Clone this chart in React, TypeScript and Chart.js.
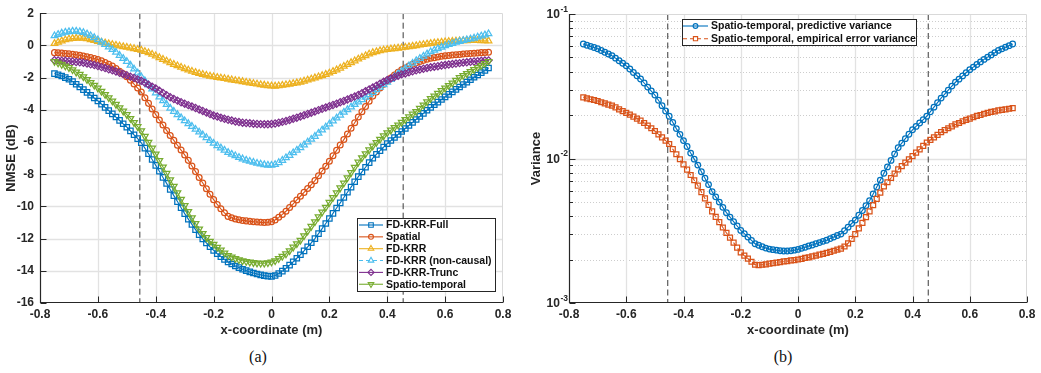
import React, { useEffect, useRef } from 'react';
import { Chart, registerables } from 'chart.js';

Chart.register(...registerables);

// Microphone positions along the evaluation line (m)
const X_POS: number[] = Array.from({ length: 121 }, (_, i) => +(-0.75 + i * 0.0125).toFixed(4));

const X_TICKS = [-0.8, -0.6, -0.4, -0.2, 0, 0.2, 0.4, 0.6, 0.8];
const NMSE_TICKS = [-16, -14, -12, -10, -8, -6, -4, -2, 0, 2];
const VAR_DECADES = [0.001, 0.01, 0.1];
const VAR_MINORS = [0.002, 0.003, 0.004, 0.005, 0.006, 0.007, 0.008, 0.009, 0.02, 0.03, 0.04, 0.05, 0.06, 0.07, 0.08, 0.09];
const REGION_EDGES = [-0.455, 0.455];

// NMSE (dB) per method
const NMSE_FULL = [
  -1.75, -1.82, -1.9, -2.0, -2.1, -2.25, -2.41, -2.58, -2.75, -2.92, -3.1, -3.27,
  -3.45, -3.65, -3.85, -4.05, -4.25, -4.45, -4.66, -4.87, -5.08, -5.31, -5.55, -5.79,
  -6.05, -6.38, -6.73, -7.09, -7.45, -7.82, -8.2, -8.57, -8.95, -9.33, -9.7, -10.08,
  -10.45, -10.79, -11.12, -11.44, -11.75, -12.02, -12.27, -12.51, -12.73, -12.93, -13.12, -13.29,
  -13.45, -13.58, -13.7, -13.8, -13.9, -13.99, -14.07, -14.14, -14.2, -14.25, -14.3, -14.33,
  -14.35, -14.29, -14.17, -14.02, -13.85, -13.65, -13.44, -13.22, -13.0, -12.76, -12.51, -12.26,
  -12.0, -11.69, -11.38, -11.06, -10.75, -10.43, -10.1, -9.78, -9.45, -9.12, -8.8, -8.47,
  -8.15, -7.86, -7.57, -7.28, -7.0, -6.77, -6.54, -6.32, -6.1, -5.91, -5.72, -5.53,
  -5.35, -5.16, -4.97, -4.78, -4.6, -4.41, -4.22, -4.03, -3.85, -3.69, -3.52, -3.36,
  -3.2, -3.04, -2.89, -2.73, -2.58, -2.43, -2.28, -2.13, -1.98, -1.84, -1.69, -1.55,
  -1.4,
];
const NMSE_SPATIAL = [
  -0.45, -0.46, -0.48, -0.5, -0.52, -0.55, -0.58, -0.62, -0.66, -0.71, -0.76, -0.82,
  -0.88, -0.96, -1.06, -1.17, -1.28, -1.43, -1.6, -1.77, -1.95, -2.17, -2.4, -2.65,
  -2.9, -3.25, -3.6, -3.95, -4.3, -4.63, -4.95, -5.28, -5.6, -5.9, -6.2, -6.5,
  -6.8, -7.14, -7.49, -7.84, -8.2, -8.55, -8.9, -9.25, -9.58, -9.88, -10.15, -10.4,
  -10.62, -10.71, -10.78, -10.83, -10.87, -10.9, -10.93, -10.95, -10.97, -10.99, -11.0, -10.98,
  -10.95, -10.84, -10.68, -10.5, -10.3, -10.07, -9.84, -9.6, -9.37, -9.13, -8.89, -8.65,
  -8.4, -8.1, -7.8, -7.5, -7.2, -6.86, -6.52, -6.19, -5.85, -5.5, -5.15, -4.8,
  -4.45, -4.12, -3.79, -3.47, -3.15, -2.9, -2.65, -2.42, -2.2, -2.02, -1.84, -1.67,
  -1.52, -1.4, -1.28, -1.17, -1.08, -1.0, -0.93, -0.86, -0.8, -0.76, -0.72, -0.68,
  -0.65, -0.63, -0.6, -0.58, -0.56, -0.54, -0.52, -0.5, -0.49, -0.47, -0.45, -0.44,
  -0.42,
];
const NMSE_FDKRR = [
  0.12, 0.2, 0.28, 0.35, 0.4, 0.43, 0.45, 0.46, 0.45, 0.41, 0.36, 0.3,
  0.25, 0.2, 0.15, 0.1, 0.05, 0.01, -0.04, -0.08, -0.12, -0.16, -0.2, -0.25,
  -0.3, -0.38, -0.46, -0.55, -0.65, -0.76, -0.87, -0.97, -1.08, -1.18, -1.27, -1.36,
  -1.45, -1.53, -1.61, -1.68, -1.75, -1.8, -1.86, -1.91, -1.95, -1.99, -2.03, -2.06,
  -2.1, -2.14, -2.18, -2.21, -2.25, -2.29, -2.33, -2.37, -2.4, -2.44, -2.47, -2.5,
  -2.52, -2.53, -2.51, -2.48, -2.45, -2.41, -2.37, -2.33, -2.28, -2.22, -2.15, -2.09,
  -2.02, -1.95, -1.88, -1.8, -1.72, -1.62, -1.52, -1.41, -1.3, -1.19, -1.07, -0.96,
  -0.85, -0.74, -0.64, -0.54, -0.45, -0.39, -0.33, -0.29, -0.25, -0.22, -0.2, -0.17,
  -0.15, -0.12, -0.08, -0.05, -0.02, 0.02, 0.05, 0.09, 0.12, 0.15, 0.17, 0.2,
  0.22, 0.24, 0.25, 0.27, 0.28, 0.29, 0.29, 0.3, 0.3, 0.3, 0.29, 0.29,
  0.28,
];
const NMSE_NONCAUSAL = [
  0.6, 0.68, 0.76, 0.82, 0.85, 0.88, 0.88, 0.85, 0.8, 0.71, 0.6, 0.48,
  0.35, 0.2, 0.05, -0.1, -0.25, -0.43, -0.62, -0.81, -1.0, -1.23, -1.47, -1.71,
  -1.95, -2.2, -2.46, -2.71, -2.95, -3.2, -3.44, -3.67, -3.9, -4.1, -4.3, -4.49,
  -4.68, -4.86, -5.03, -5.21, -5.38, -5.56, -5.73, -5.91, -6.08, -6.23, -6.37, -6.51,
  -6.65, -6.76, -6.86, -6.96, -7.05, -7.13, -7.2, -7.26, -7.32, -7.37, -7.41, -7.44,
  -7.45, -7.4, -7.28, -7.14, -6.98, -6.83, -6.67, -6.51, -6.35, -6.18, -6.0, -5.83,
  -5.65, -5.46, -5.26, -5.07, -4.88, -4.7, -4.51, -4.33, -4.15, -3.99, -3.83, -3.67,
  -3.52, -3.37, -3.22, -3.07, -2.92, -2.76, -2.6, -2.44, -2.28, -2.11, -1.94, -1.77,
  -1.6, -1.44, -1.27, -1.11, -0.95, -0.81, -0.67, -0.53, -0.4, -0.3, -0.2, -0.11,
  -0.02, 0.05, 0.12, 0.19, 0.25, 0.3, 0.35, 0.4, 0.45, 0.52, 0.58, 0.65,
  0.72,
];
const NMSE_TRUNC = [
  -0.92, -0.93, -0.95, -0.96, -0.98, -1.0, -1.03, -1.05, -1.08, -1.12, -1.17, -1.22,
  -1.28, -1.35, -1.41, -1.48, -1.55, -1.62, -1.7, -1.77, -1.85, -1.94, -2.02, -2.11,
  -2.2, -2.32, -2.44, -2.56, -2.68, -2.82, -2.95, -3.09, -3.22, -3.33, -3.43, -3.53,
  -3.62, -3.71, -3.8, -3.89, -3.98, -4.07, -4.17, -4.26, -4.35, -4.42, -4.5, -4.56,
  -4.62, -4.67, -4.72, -4.76, -4.8, -4.82, -4.84, -4.86, -4.88, -4.89, -4.9, -4.9,
  -4.88, -4.85, -4.8, -4.75, -4.7, -4.63, -4.56, -4.49, -4.42, -4.34, -4.26, -4.18,
  -4.1, -4.02, -3.94, -3.86, -3.78, -3.7, -3.62, -3.53, -3.45, -3.36, -3.27, -3.18,
  -3.08, -2.97, -2.85, -2.74, -2.62, -2.5, -2.38, -2.26, -2.15, -2.06, -1.97, -1.88,
  -1.8, -1.74, -1.67, -1.61, -1.55, -1.5, -1.45, -1.4, -1.36, -1.32, -1.29, -1.25,
  -1.22, -1.19, -1.16, -1.13, -1.1, -1.07, -1.05, -1.02, -1.0, -0.98, -0.96, -0.94,
  -0.93,
];
const NMSE_SPATIOTEMPORAL = [
  -1.0, -1.09, -1.18, -1.28, -1.38, -1.51, -1.66, -1.8, -1.95, -2.12, -2.3, -2.47,
  -2.65, -2.85, -3.05, -3.25, -3.45, -3.66, -3.87, -4.08, -4.3, -4.54, -4.79, -5.04,
  -5.3, -5.65, -6.01, -6.38, -6.75, -7.15, -7.55, -7.95, -8.35, -8.75, -9.15, -9.55,
  -9.95, -10.32, -10.7, -11.06, -11.4, -11.68, -11.94, -12.16, -12.35, -12.54, -12.71, -12.89,
  -13.05, -13.14, -13.23, -13.31, -13.38, -13.42, -13.46, -13.49, -13.52, -13.53, -13.53, -13.5,
  -13.45, -13.37, -13.24, -13.1, -12.95, -12.75, -12.53, -12.32, -12.1, -11.82, -11.53, -11.24,
  -10.95, -10.65, -10.35, -10.05, -9.75, -9.45, -9.15, -8.85, -8.55, -8.22, -7.9, -7.57,
  -7.25, -6.98, -6.73, -6.49, -6.25, -6.03, -5.83, -5.62, -5.42, -5.26, -5.1, -4.94,
  -4.78, -4.61, -4.44, -4.27, -4.1, -3.9, -3.7, -3.5, -3.3, -3.14, -2.98, -2.81,
  -2.65, -2.49, -2.33, -2.16, -2.0, -1.87, -1.75, -1.62, -1.5, -1.37, -1.25, -1.12,
  -1.0,
];

// Variance of the spatio-temporal estimate
const VAR_PREDICTIVE = [
  0.062, 0.0608, 0.0597, 0.0586, 0.0575, 0.0559, 0.0544, 0.0529, 0.0515, 0.0495, 0.0475, 0.0456,
  0.0438, 0.0416, 0.0394, 0.0374, 0.0355, 0.0333, 0.0312, 0.0293, 0.0275, 0.0253, 0.0232, 0.0213,
  0.0196, 0.0178, 0.0161, 0.0147, 0.0133, 0.0121, 0.0109, 0.0099, 0.009, 0.0081, 0.0073, 0.0066,
  0.0059, 0.00543, 0.00499, 0.00459, 0.00422, 0.00393, 0.00366, 0.00341, 0.00318, 0.00302, 0.00286, 0.00271,
  0.00257, 0.00251, 0.00245, 0.0024, 0.00236, 0.00234, 0.00232, 0.0023, 0.00229, 0.00229, 0.0023, 0.00232,
  0.00235, 0.00239, 0.00243, 0.00248, 0.00252, 0.00257, 0.00262, 0.00267, 0.00272, 0.00279, 0.00286, 0.00293,
  0.003, 0.00316, 0.00335, 0.00355, 0.00375, 0.00405, 0.00437, 0.00472, 0.0051, 0.00569, 0.00635, 0.00708,
  0.0079, 0.00875, 0.0097, 0.01074, 0.0119, 0.01277, 0.01371, 0.01472, 0.0158, 0.01667, 0.0176, 0.01857,
  0.0196, 0.02108, 0.02266, 0.02437, 0.0262, 0.0279, 0.0297, 0.0317, 0.0337, 0.0354, 0.0373, 0.0392,
  0.0412, 0.0429, 0.0447, 0.0466, 0.0485, 0.0503, 0.0521, 0.054, 0.056, 0.0574, 0.0589, 0.0604,
  0.062,
];
const VAR_EMPIRICAL = [
  0.0265, 0.0261, 0.0257, 0.0254, 0.025, 0.0245, 0.0241, 0.0236, 0.0232, 0.0226, 0.0219, 0.0213,
  0.0207, 0.0201, 0.0195, 0.0189, 0.0183, 0.0176, 0.0169, 0.0162, 0.0155, 0.0147, 0.014, 0.0133,
  0.0126, 0.0116, 0.0107, 0.00988, 0.0091, 0.00837, 0.00769, 0.00707, 0.0065, 0.00586, 0.00529, 0.00477,
  0.0043, 0.00395, 0.00363, 0.00333, 0.00306, 0.00283, 0.00262, 0.00242, 0.00224, 0.00213, 0.00203, 0.00193,
  0.00184, 0.00183, 0.00184, 0.00185, 0.00187, 0.00189, 0.0019, 0.00192, 0.00194, 0.00195, 0.00197, 0.00198,
  0.002, 0.00202, 0.00205, 0.00207, 0.0021, 0.00213, 0.00216, 0.00219, 0.00222, 0.00226, 0.0023, 0.00234,
  0.00238, 0.00246, 0.00259, 0.00278, 0.003, 0.00328, 0.00359, 0.00393, 0.0043, 0.00475, 0.00525, 0.0058,
  0.0064, 0.00685, 0.00733, 0.00785, 0.0084, 0.00886, 0.00935, 0.00986, 0.0104, 0.01098, 0.01158, 0.01222,
  0.0129, 0.01344, 0.014, 0.01459, 0.0152, 0.0157, 0.0162, 0.0167, 0.0172, 0.0176, 0.0181, 0.0185,
  0.0189, 0.0193, 0.0197, 0.02, 0.0204, 0.0207, 0.021, 0.0212, 0.0215, 0.0217, 0.0219, 0.0221,
  0.0223,
];

const SANS = "'Liberation Sans', Arial, Helvetica, sans-serif";
const AXIS_COLOR = '#262626';
const GRID_COLOR = '#e2e2e2';
const MINOR_GRID_COLOR = '#cdcdcd';
const BOX_LIGHT = '#d9d9d9';
const EDGE_COLOR = '#3a3a3a';

type Marker = 'rect' | 'circle' | 'triangle' | 'triangleDown' | 'rectRot';

interface SeriesStyle {
  name: string;
  values: number[];
  color: string;
  marker: Marker;
  radius: number;
  dash: number[];
}

const NMSE_SERIES: SeriesStyle[] = [
  { name: 'FD-KRR-Full', values: NMSE_FULL, color: '#0072BD', marker: 'rect', radius: 3.8, dash: [] },
  { name: 'Spatial', values: NMSE_SPATIAL, color: '#D95319', marker: 'circle', radius: 2.9, dash: [] },
  { name: 'FD-KRR', values: NMSE_FDKRR, color: '#EDB120', marker: 'triangle', radius: 3.8, dash: [] },
  { name: 'FD-KRR (non-causal)', values: NMSE_NONCAUSAL, color: '#4DBEEE', marker: 'triangle', radius: 3.8, dash: [4, 3] },
  { name: 'FD-KRR-Trunc', values: NMSE_TRUNC, color: '#7E2F8E', marker: 'rectRot', radius: 3.6, dash: [] },
  { name: 'Spatio-temporal', values: NMSE_SPATIOTEMPORAL, color: '#77AC30', marker: 'triangleDown', radius: 3.8, dash: [] },
];

const VAR_SERIES: SeriesStyle[] = [
  { name: 'Spatio-temporal, predictive variance', values: VAR_PREDICTIVE, color: '#0072BD', marker: 'circle', radius: 2.8, dash: [] },
  { name: 'Spatio-temporal, empirical error variance', values: VAR_EMPIRICAL, color: '#D95319', marker: 'rect', radius: 3.5, dash: [4, 3] },
];

function toDataset(s: SeriesStyle, k: number, total: number) {
  return {
    label: s.name,
    data: X_POS.map((x, i) => ({ x, y: s.values[i] })),
    borderColor: s.color,
    borderWidth: 1.1,
    borderDash: s.dash,
    pointStyle: s.marker === 'triangleDown' ? 'triangle' : s.marker,
    pointRotation: s.marker === 'triangleDown' ? 180 : 0,
    pointRadius: s.radius,
    pointBorderWidth: 1.25,
    pointBorderColor: s.color,
    pointBackgroundColor: 'rgba(0,0,0,0)',
    fill: false,
    tension: 0,
    order: total - 1 - k,
  };
}

function drawMarker(ctx: CanvasRenderingContext2D, m: Marker, x: number, y: number, r: number) {
  ctx.beginPath();
  if (m === 'circle') {
    ctx.arc(x, y, r, 0, Math.PI * 2);
  } else if (m === 'rect') {
    const s = r * Math.SQRT1_2;
    ctx.rect(x - s, y - s, 2 * s, 2 * s);
  } else if (m === 'rectRot') {
    ctx.moveTo(x - r, y);
    ctx.lineTo(x, y - r);
    ctx.lineTo(x + r, y);
    ctx.lineTo(x, y + r);
    ctx.closePath();
  } else {
    let a = m === 'triangleDown' ? Math.PI : 0;
    for (let i = 0; i < 3; i++) {
      const px = x + Math.sin(a) * r;
      const py = y - Math.cos(a) * r;
      if (i === 0) ctx.moveTo(px, py);
      else ctx.lineTo(px, py);
      a += (2 * Math.PI) / 3;
    }
    ctx.closePath();
  }
  ctx.stroke();
}

const crisp = (v: number) => Math.round(v) + 0.5;

function seg(ctx: CanvasRenderingContext2D, x1: number, y1: number, x2: number, y2: number) {
  ctx.beginPath();
  ctx.moveTo(x1, y1);
  ctx.lineTo(x2, y2);
  ctx.stroke();
}

interface LegendBox {
  left: number;
  top: number;
  width: number;
  height: number;
  firstRow: number;
  rowStep: number;
  lineFrom: number;
  lineTo: number;
  textX: number;
}

interface FrameCfg {
  yMajor: number[];
  yMinor: number[];
  logLabels: boolean;
  legend: LegendBox;
  series: SeriesStyle[];
}

function makeFramePlugin(cfg: FrameCfg) {
  return {
    id: 'matlabFrame',
    beforeDatasetsDraw(chart: any) {
      const { ctx, chartArea: a, scales } = chart;
      const xs = scales.x;
      const ys = scales.y;
      ctx.save();
      ctx.lineWidth = 1;
      if (cfg.yMinor.length) {
        ctx.strokeStyle = MINOR_GRID_COLOR;
        ctx.setLineDash([1, 2]);
        for (const v of cfg.yMinor) {
          const y = crisp(ys.getPixelForValue(v));
          seg(ctx, a.left, y, a.right, y);
        }
        ctx.setLineDash([]);
      }
      ctx.strokeStyle = GRID_COLOR;
      ctx.lineWidth = 1.3;
      for (const v of X_TICKS) {
        const x = crisp(xs.getPixelForValue(v));
        if (x > a.left + 2 && x < a.right - 2) seg(ctx, x, a.top, x, a.bottom);
      }
      for (const v of cfg.yMajor) {
        const y = crisp(ys.getPixelForValue(v));
        if (y > a.top + 2 && y < a.bottom - 2) seg(ctx, a.left, y, a.right, y);
      }
      ctx.lineWidth = 1;
      ctx.strokeStyle = EDGE_COLOR;
      ctx.setLineDash([6, 3.5]);
      for (const v of REGION_EDGES) {
        const x = xs.getPixelForValue(v);
        seg(ctx, x, a.top, x, a.bottom);
      }
      ctx.restore();
    },
    afterDatasetsDraw(chart: any) {
      const { ctx, chartArea: a, scales } = chart;
      const xs = scales.x;
      const ys = scales.y;
      ctx.save();
      ctx.lineWidth = 1;
      const L = crisp(a.left);
      const R = crisp(a.right - 1);
      const T = crisp(a.top);
      const B = crisp(a.bottom - 1);
      ctx.strokeStyle = BOX_LIGHT;
      seg(ctx, L, T, R, T);
      seg(ctx, R, T, R, B);
      ctx.strokeStyle = AXIS_COLOR;
      ctx.lineWidth = 1.2;
      seg(ctx, L, T - 0.5, L, B + 0.5);
      seg(ctx, L - 0.5, B, R + 0.5, B);
      ctx.lineWidth = 1;
      // inward tick marks
      for (const v of X_TICKS) {
        const x = crisp(xs.getPixelForValue(v));
        seg(ctx, x, B, x, B - 6);
      }
      for (const v of cfg.yMajor) {
        const y = crisp(ys.getPixelForValue(v));
        seg(ctx, L, y, L + 6, y);
      }
      for (const v of cfg.yMinor) {
        const y = crisp(ys.getPixelForValue(v));
        seg(ctx, L, y, L + 3.5, y);
      }
      // decade labels with superscript exponents
      if (cfg.logLabels) {
        ctx.fillStyle = AXIS_COLOR;
        ctx.textBaseline = 'middle';
        ctx.textAlign = 'right';
        for (const v of cfg.yMajor) {
          const y = ys.getPixelForValue(v);
          const exp = String(Math.round(Math.log10(v)));
          ctx.font = `bold 8.5px ${SANS}`;
          const ew = ctx.measureText(exp).width;
          ctx.fillText(exp, a.left - 1, y - 4.5);
          ctx.font = `bold 12px ${SANS}`;
          ctx.fillText('10', a.left - 1.5 - ew, y + 1);
        }
      }
      // legend
      const lg = cfg.legend;
      ctx.fillStyle = '#ffffff';
      ctx.fillRect(lg.left, lg.top, lg.width, lg.height);
      ctx.strokeStyle = AXIS_COLOR;
      ctx.lineWidth = 1;
      ctx.strokeRect(crisp(lg.left), crisp(lg.top), lg.width, lg.height);
      ctx.font = `bold 10.5px ${SANS}`;
      ctx.textAlign = 'left';
      ctx.textBaseline = 'middle';
      cfg.series.forEach((s, i) => {
        const y = lg.firstRow + i * lg.rowStep;
        ctx.strokeStyle = s.color;
        ctx.lineWidth = 1.1;
        ctx.setLineDash(s.dash);
        seg(ctx, lg.lineFrom, y, lg.lineTo, y);
        ctx.setLineDash([]);
        drawMarker(ctx, s.marker, (lg.lineFrom + lg.lineTo) / 2, y, s.radius * 0.85);
        ctx.fillStyle = '#111111';
        ctx.fillText(s.name, lg.textX, y + 0.5);
      });
      ctx.restore();
    },
  };
}

const tickFont = { family: SANS, size: 12, weight: 'bold' as const };
const titleFont = { family: SANS, size: 13, weight: 'bold' as const };

function xScale() {
  return {
    type: 'linear',
    min: -0.8,
    max: 0.8,
    afterBuildTicks: (s: any) => {
      s.ticks = X_TICKS.map((value) => ({ value }));
    },
    afterFit: (s: any) => {
      s.height = 42;
    },
    grid: { display: false, drawTicks: false },
    border: { display: false },
    ticks: {
      font: tickFont,
      color: AXIS_COLOR,
      padding: 4,
      maxRotation: 0,
      autoSkip: false,
      callback: (v: number) => (Math.abs(v) < 1e-9 ? '0' : v.toFixed(1)),
    },
    title: {
      display: true,
      text: 'x-coordinate (m)',
      font: titleFont,
      color: AXIS_COLOR,
      padding: { top: 0, bottom: 7 },
    },
  };
}

function nmseConfig(plugin: any): any {
  return {
    type: 'line',
    data: { datasets: NMSE_SERIES.map((s, k) => toDataset(s, k, NMSE_SERIES.length)) },
    options: {
      responsive: false,
      animation: false,
      events: [],
      layout: { padding: { left: 0, top: 11, right: 17, bottom: 0 } },
      plugins: { legend: { display: false }, tooltip: { enabled: false } },
      scales: {
        x: xScale(),
        y: {
          type: 'linear',
          min: -16,
          max: 2,
          afterBuildTicks: (s: any) => {
            s.ticks = NMSE_TICKS.map((value) => ({ value }));
          },
          afterFit: (s: any) => {
            s.width = 40;
          },
          grid: { display: false, drawTicks: false },
          border: { display: false },
          ticks: { font: tickFont, color: AXIS_COLOR, padding: 6, callback: (v: number) => String(v) },
          title: {
            display: true,
            text: 'NMSE (dB)',
            font: titleFont,
            color: AXIS_COLOR,
            padding: { top: 4, bottom: 0 },
          },
        },
      },
    },
    plugins: [plugin],
  };
}

function varianceConfig(plugin: any): any {
  return {
    type: 'line',
    data: { datasets: VAR_SERIES.map((s, k) => toDataset(s, k, VAR_SERIES.length)) },
    options: {
      responsive: false,
      animation: false,
      events: [],
      layout: { padding: { left: 0, top: 14, right: 14, bottom: 0 } },
      plugins: { legend: { display: false }, tooltip: { enabled: false } },
      scales: {
        x: xScale(),
        y: {
          type: 'logarithmic',
          min: 0.001,
          max: 0.1,
          afterFit: (s: any) => {
            s.width = 49;
          },
          grid: { display: false, drawTicks: false },
          border: { display: false },
          ticks: { display: false },
          title: {
            display: true,
            text: 'Variance',
            font: titleFont,
            color: AXIS_COLOR,
            padding: { top: 9, bottom: 0 },
          },
        },
      },
    },
    plugins: [plugin],
  };
}

export default function App() {
  const nmseRef = useRef<HTMLCanvasElement>(null);
  const varRef = useRef<HTMLCanvasElement>(null);

  useEffect(() => {
    const nmse = new Chart(
      nmseRef.current as HTMLCanvasElement,
      nmseConfig(
        makeFramePlugin({
          yMajor: NMSE_TICKS,
          yMinor: [],
          logLabels: false,
          series: NMSE_SERIES,
          legend: { left: 357, top: 218, width: 138, height: 73, firstRow: 225, rowStep: 11.85, lineFrom: 359, lineTo: 383, textX: 386 },
        })
      )
    );
    const variance = new Chart(
      varRef.current as HTMLCanvasElement,
      varianceConfig(
        makeFramePlugin({
          yMajor: VAR_DECADES,
          yMinor: VAR_MINORS,
          logLabels: true,
          series: VAR_SERIES,
          legend: { left: 162, top: 19, width: 234, height: 26, firstRow: 26, rowStep: 12.7, lineFrom: 163, lineTo: 188, textX: 191 },
        })
      )
    );
    return () => {
      nmse.destroy();
      variance.destroy();
    };
  }, []);

  const caption: React.CSSProperties = {
    position: 'absolute',
    top: 348,
    width: 60,
    textAlign: 'center',
    font: "16px 'Liberation Serif', 'Times New Roman', serif",
    lineHeight: '18px',
    color: '#111',
  };

  return (
    <div style={{ position: 'absolute', left: 0, top: 0, width: 1041, height: 373, background: '#ffffff', overflow: 'hidden' }}>
      <canvas ref={nmseRef} width={520} height={345} style={{ position: 'absolute', left: 0, top: 0, width: 520, height: 345 }} />
      <canvas ref={varRef} width={521} height={345} style={{ position: 'absolute', left: 520, top: 0, width: 521, height: 345 }} />
      <div style={{ ...caption, left: 228 }}>(a)</div>
      <div style={{ ...caption, left: 753 }}>(b)</div>
    </div>
  );
}
